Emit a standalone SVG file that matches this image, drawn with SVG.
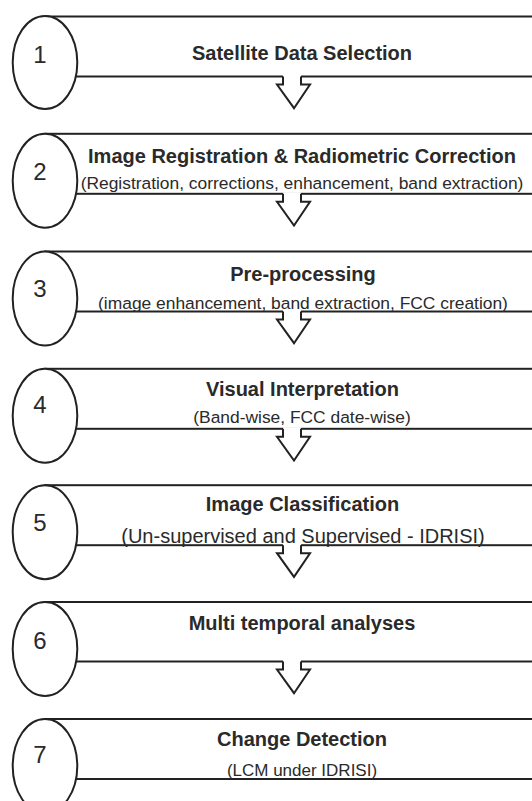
<svg xmlns="http://www.w3.org/2000/svg" width="532" height="801" viewBox="0 0 532 801">
<style>
.band{fill:#fff;stroke:#222;stroke-width:2}
.circ{fill:#fff;stroke:#222;stroke-width:2}
.num{font-family:"Liberation Sans",Arial,sans-serif;font-size:24px;fill:#2a2a2a;text-anchor:middle}
.title{font-family:"Liberation Sans",Arial,sans-serif;font-size:20px;font-weight:bold;fill:#2a2a2a;text-anchor:middle}
.sub{font-family:"Liberation Sans",Arial,sans-serif;font-size:17.4px;fill:#2a2a2a;text-anchor:middle}
.afill{fill:#fff;stroke:none}
.aline{fill:none;stroke:#222;stroke-width:2;stroke-linejoin:miter}
</style>
<defs>
<g id="arrow">
<polygon class="afill" points="283,-1.5 283,8 277,8 294,31.7 310,8 301,8 301,-1.5"/>
<polyline class="aline" points="283,0 283,8 277,8 294,31.7 310,8 301,8 301,0"/>
</g>
</defs>
<rect width="532" height="801" fill="#fff"/>
<g id="step1">
<rect class="band" x="45" y="16.5" width="500" height="60"/>
<ellipse class="circ" cx="45" cy="62.5" rx="32.3" ry="46.5"/>
<text class="num" x="40" y="63">1</text>
<text class="title" x="302" y="60.4">Satellite Data Selection</text>
</g>
<g id="step2">
<rect class="band" x="45" y="133.8" width="500" height="60"/>
<ellipse class="circ" cx="45" cy="180.8" rx="32.3" ry="47"/>
<text class="num" x="40" y="179.6">2</text>
<text class="title" x="302" y="162.6">Image Registration &amp; Radiometric Correction</text>
<text class="sub" x="302" y="188.7">(Registration, corrections, enhancement, band extraction)</text>
</g>
<g id="step3">
<rect class="band" x="45" y="251.5" width="500" height="60"/>
<ellipse class="circ" cx="45" cy="298.5" rx="32.3" ry="47"/>
<text class="num" x="40" y="297">3</text>
<text class="title" x="303" y="281">Pre-processing</text>
<text class="sub" x="303" y="309">(image enhancement, band extraction, FCC creation)</text>
</g>
<g id="step4">
<rect class="band" x="45" y="368.8" width="500" height="60"/>
<ellipse class="circ" cx="45" cy="415.8" rx="32.3" ry="47"/>
<text class="num" x="40" y="413">4</text>
<text class="title" x="302.5" y="396">Visual Interpretation</text>
<text class="sub" x="302" y="423.3">(Band-wise, FCC date-wise)</text>
</g>
<g id="step5">
<rect class="band" x="45" y="485.2" width="500" height="60"/>
<ellipse class="circ" cx="45" cy="532.2" rx="32.3" ry="47"/>
<text class="num" x="40" y="531">5</text>
<text class="title" x="302.5" y="511.3">Image Classification</text>
<text class="sub" x="303" y="542.5" style="font-size:20px">(Un-supervised and Supervised - IDRISI)</text>
</g>
<g id="step6">
<rect class="band" x="45" y="602" width="500" height="59.5"/>
<ellipse class="circ" cx="45" cy="649" rx="32.3" ry="47"/>
<text class="num" x="40" y="649">6</text>
<text class="title" x="302" y="629.6">Multi temporal analyses</text>
</g>
<g id="step7">
<rect class="band" x="45" y="719" width="500" height="60"/>
<ellipse class="circ" cx="45" cy="766" rx="32.3" ry="47"/>
<text class="num" x="40" y="763">7</text>
<text class="title" x="302" y="746">Change Detection</text>
<text class="sub" x="302" y="775.7" style="font-size:17px">(LCM under IDRISI)</text>
</g>
<g id="connectors">
<use href="#arrow" transform="translate(0,76.5)"/>
<use href="#arrow" transform="translate(0,193.8)"/>
<use href="#arrow" transform="translate(0,311.5)"/>
<use href="#arrow" transform="translate(0,428.8)"/>
<use href="#arrow" transform="translate(0,545.2)"/>
<use href="#arrow" transform="translate(0,661.5)"/>
</g>
</svg>
